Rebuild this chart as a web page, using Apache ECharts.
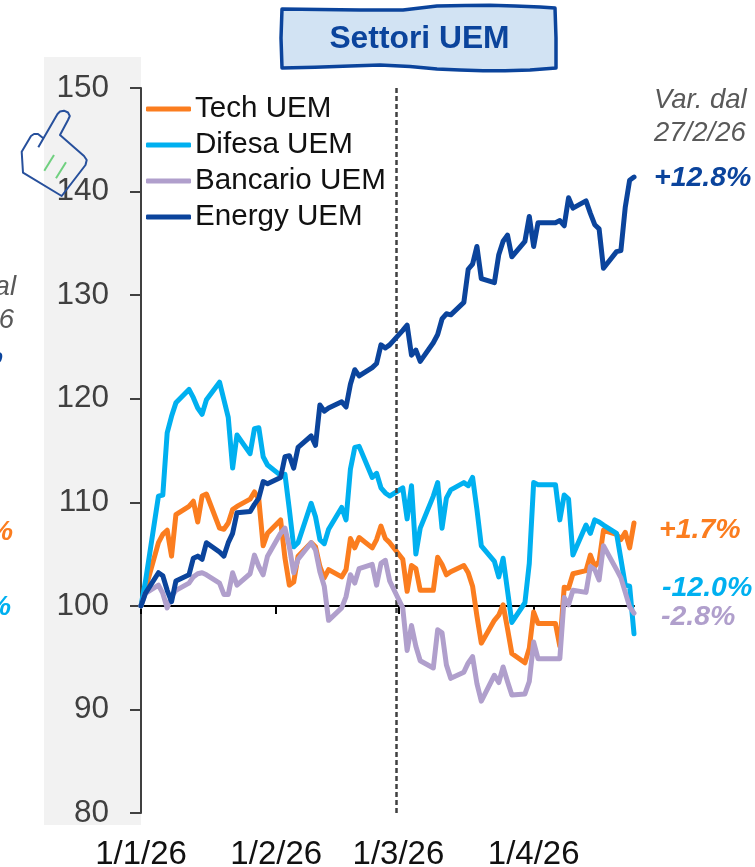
<!DOCTYPE html>
<html><head><meta charset="utf-8">
<style>html,body{margin:0;padding:0;background:#fff}#c{width:755px;height:867px}</style>
<script src="https://cdn.jsdelivr.net/npm/echarts@6/dist/echarts.min.js"></script>
</head><body><div id="c"></div>
<script>
const dates = ['2026-01-01','2026-01-02','2026-01-05','2026-01-06','2026-01-07','2026-01-08','2026-01-09',
'2026-01-12','2026-01-13','2026-01-14','2026-01-15','2026-01-16','2026-01-19','2026-01-20','2026-01-21','2026-01-22','2026-01-23',
'2026-01-26','2026-01-27','2026-01-28','2026-01-29','2026-01-30','2026-02-02','2026-02-03','2026-02-04','2026-02-05','2026-02-06',
'2026-02-09','2026-02-10','2026-02-11','2026-02-12','2026-02-13','2026-02-16','2026-02-17','2026-02-18','2026-02-19','2026-02-20',
'2026-02-23','2026-02-24','2026-02-25','2026-02-26','2026-02-27','2026-03-02','2026-03-03','2026-03-04','2026-03-05','2026-03-06',
'2026-03-09','2026-03-10','2026-03-11','2026-03-12','2026-03-13','2026-03-16','2026-03-17','2026-03-18','2026-03-19','2026-03-20',
'2026-03-23','2026-03-24','2026-03-25','2026-03-26','2026-03-27','2026-03-30','2026-03-31','2026-04-01','2026-04-02','2026-04-03',
'2026-04-06','2026-04-07','2026-04-08','2026-04-09','2026-04-10','2026-04-13','2026-04-14','2026-04-15','2026-04-16','2026-04-17',
'2026-04-20','2026-04-21','2026-04-22','2026-04-23','2026-04-24'];
const tech = [100,101.6,106.1,106.9,107.3,104.8,108.8,
109.6,110.1,108.1,110.6,110.8,107.5,107.4,108,109.3,109.6,
110.3,111,110.3,105.8,107,108.3,104.6,102,102.3,104.8,
106.1,105.7,103.8,102.7,103.5,102.8,103.5,106.5,105.6,106.6,
105.6,106.4,107.7,106.5,106.1,104.5,101.4,103.9,103.6,101.5,
101.5,104.7,104,103,103.3,103.9,103.2,101.9,99,96.4,
98.6,99.1,100.1,97.8,95.4,94.5,95.9,99.4,98.3,98.3,
98.3,96.1,101.8,101.7,103.1,103.4,104.9,103.8,104.3,107.3,
106.9,106.4,107.1,105.6,108];
const difesa = [100,102.3,110.6,110.7,116.7,118.3,119.6,
120.9,120.1,119.1,118.5,119.9,121.6,119.9,118.2,113.3,116.5,
114.7,117.1,117.2,114.4,113.6,112.6,112.7,109.3,105.7,106.1,
109.9,108.6,106.4,106,107.4,109.5,108.3,113.2,115.3,115.4,
112.4,112.8,111.4,110.9,110.6,111.4,108.4,111.6,105,107.5,
110.6,111.9,107.5,110.4,111.2,111.9,111.6,112.4,109.3,105.8,
104.3,102.8,104.6,101.5,98.4,100.3,104.1,111.9,111.7,111.7,
111.7,108.3,110.7,110.3,104.9,107.8,107,108.3,108.1,107.8,
107,104.5,102,101.9,97.3];
const bancario = [100,101.2,102,101.2,99.8,100.9,101.5,
102.2,102.8,103.1,103.2,103,102.2,101.1,101.1,103.2,102,
103.1,104.9,103.8,103,104.8,107,107.5,105.7,103.2,104.5,
106.1,105.4,103.3,101.9,98.6,99.8,100.9,103,102.2,103.6,
104,102,104.1,104.4,102.4,99.8,95.7,98.1,96.1,94.7,
94,97.7,97.4,94.3,93,93.6,94.5,95.1,92.5,90.8,
93.3,92.6,94.1,92.7,91.4,91.5,92.7,96.5,94.9,94.9,
94.9,94.9,100.8,100.1,101.5,101.3,103.8,103.5,102.5,105.8,
103.5,102.7,101.3,99.9,99.3];
const energy = [100,101.2,103.2,102.9,101.5,100.4,102.4,
103,104.6,104.8,104.5,106.1,105.2,104.8,106.1,107,109,
109.1,109.8,110.4,112,111.8,112.4,114.4,114.5,113.3,115.3,
116.4,115.5,119.4,118.8,119.1,119.7,119.2,121.4,122.8,122.2,
123,123.4,125.2,124.9,125.2,126.6,127.1,124.2,124.7,123.6,
125.4,126.2,127.7,128.2,128.1,129.3,132.5,133,134.7,131.6,
131.2,133.9,135.2,135.8,133.7,135.2,137.6,134.7,137,137,
137,137.2,136.7,139.4,138.4,139.1,137.9,136.8,136.4,132.6,
134.2,134.3,138.5,141.1,141.4];
const tickDates = ['2026-01-01','2026-02-01','2026-03-01','2026-04-01'];
const tickLabels = ['1/1/26','1/2/26','1/3/26','1/4/26'];
const eventDate = '2026-02-28 12:00:00';
const seriesNames = ['Tech UEM','Difesa UEM','Bancario UEM','Energy UEM'];
const seriesColors = ['#fb7d1f','#00b0f0','#b09fcc','#0b449c'];
const seriesValues = [tech,difesa,bancario,energy];
const FONT = '"Liberation Sans",Arial,sans-serif';
const ts = s => echarts.time.parse(s).getTime();
const tickTs = tickDates.map(ts);
const xBase = {type:'value',min:ts(dates[0]),max:ts(dates[dates.length-1]),splitLine:{show:false}};
function txt(x,y,text,size,color,opts){
  return {type:'text',z:50,x,y,style:Object.assign({text,fontSize:size,fill:color,fontFamily:FONT,fontStyle:'italic',textAlign:'left',textVerticalAlign:'middle'},opts||{})};
}
const chart = echarts.init(document.getElementById('c'),null,{renderer:'canvas'});
chart.setOption({
  animation:false,
  backgroundColor:'#fff',
  grid:{left:141,right:121,top:88,bottom:54,containLabel:false,outerBoundsMode:'none'},
  legend:{orient:'vertical',left:141,top:89,itemWidth:45,itemHeight:5,itemGap:6,icon:'roundRect',
    data:seriesNames,textStyle:{fontFamily:FONT,fontSize:29.6,color:'#111',padding:[0,0,0,-1],height:29,lineHeight:29}},
  xAxis:[
    Object.assign({},xBase,{position:'bottom',axisLine:{show:false},axisTick:{show:false},
      axisLabel:{show:true,customValues:tickTs,margin:25,fontFamily:FONT,fontSize:33,color:'#111',showMinLabel:true,showMaxLabel:true,
        hideOverlap:false,formatter:v=>tickLabels[tickTs.indexOf(v)]||''}}),
    Object.assign({},xBase,{position:'bottom',offset:-207,axisLine:{show:true,onZero:false,lineStyle:{color:'#000',width:2}},
      axisTick:{show:true,customValues:tickTs,length:8,inside:false,lineStyle:{color:'#000',width:2}},
      axisLabel:{show:false,customValues:tickTs}})
  ],
  yAxis:{type:'value',min:80,max:150,interval:10,axisLine:{show:true,onZero:false,lineStyle:{color:'#404040',width:2}},
    axisTick:{show:true,length:11,lineStyle:{color:'#404040',width:2}},splitLine:{show:false},
    axisLabel:{margin:32,fontFamily:FONT,fontSize:31.5,color:'#404040',padding:[5,0,0,0]}},
  series:seriesNames.map((n,i)=>({
    name:n,type:'line',xAxisIndex:0,yAxisIndex:0,showSymbol:false,symbol:'none',smooth:false,z:3+i,clip:false,
    data:dates.map((d,j)=>[ts(d),seriesValues[i][j]]),
    lineStyle:{color:seriesColors[i],width:5,join:'round',cap:'round'},itemStyle:{color:seriesColors[i]},
    markLine:i===0?{silent:true,symbol:'none',label:{show:false},animation:false,
      lineStyle:{color:'#404040',type:[5,3],width:2.5},data:[{xAxis:ts(eventDate)}]}:undefined
  })),
  graphic:{elements:[
    {type:'rect',z:-10,shape:{x:44,y:57,width:97,height:768},style:{fill:'#f2f2f2'}},
    {type:'polygon',z:40,shape:{points:[[282,9],[320,9.5],[360,10],[403,10],[420,8],[437,6],[465,5.5],[490,5.3],[515,6],[540,7],[555,8],[556,38],[556,68],[530,70],[505,70.8],[483,70.7],[460,70],[437,69],[410,66.5],[380,65],[350,66],[315,67.3],[282,68],[281,38]]},
      style:{fill:'#d2e3f3',stroke:'#0b449c',lineWidth:3.5,lineJoin:'round'}},
    txt(419.5,39,'Settori UEM',31.8,'#0b449c',{fontWeight:'bold',fontStyle:'normal',textAlign:'center'}),
    {type:'polyline',z:40,shape:{points:[[38.3,147.3],[57.5,114],[60,111.5],[64,110.7],[68,112.5],[69.8,116],[68,120],[60,135],[84,156],[86.7,160],[85.5,165],[61.7,196],[23,172.7],[21.7,151.7],[31,136],[34,134],[38,134],[43.3,138.3]]},
      style:{fill:'none',stroke:'#27509c',lineWidth:2,lineJoin:'round'}},
    {type:'line',z:40,shape:{x1:54,y1:155,x2:44.3,y2:170.7},style:{stroke:'#6fd07f',lineWidth:2}},
    {type:'line',z:40,shape:{x1:66,y1:162.3,x2:56,y2:178.3},style:{stroke:'#6fd07f',lineWidth:2}},
    txt(654,100,'Var. dal',27.5,'#595959'),
    txt(654,133,'27/2/26',27.5,'#595959'),
    txt(654,178,'+12.8%',28.5,'#0b449c',{fontWeight:'bold'}),
    txt(659,530,'+1.7%',28.5,'#fb7d1f',{fontWeight:'bold'}),
    txt(662,588,'-12.0%',28.5,'#00b0f0',{fontWeight:'bold'}),
    txt(661,617,'-2.8%',28.5,'#b09fcc',{fontWeight:'bold'}),
    txt(16,287,'Var. dal',27.5,'#595959',{textAlign:'right'}),
    txt(14,320,'27/2/26',27.5,'#595959',{textAlign:'right'}),
    txt(3,356,'%',28.5,'#0b449c',{fontWeight:'bold',textAlign:'right'}),
    txt(13,532,'%',28.5,'#fb7d1f',{fontWeight:'bold',textAlign:'right'}),
    txt(11,607,'%',28.5,'#00b0f0',{fontWeight:'bold',textAlign:'right'})
  ]}
});
</script></body></html>
